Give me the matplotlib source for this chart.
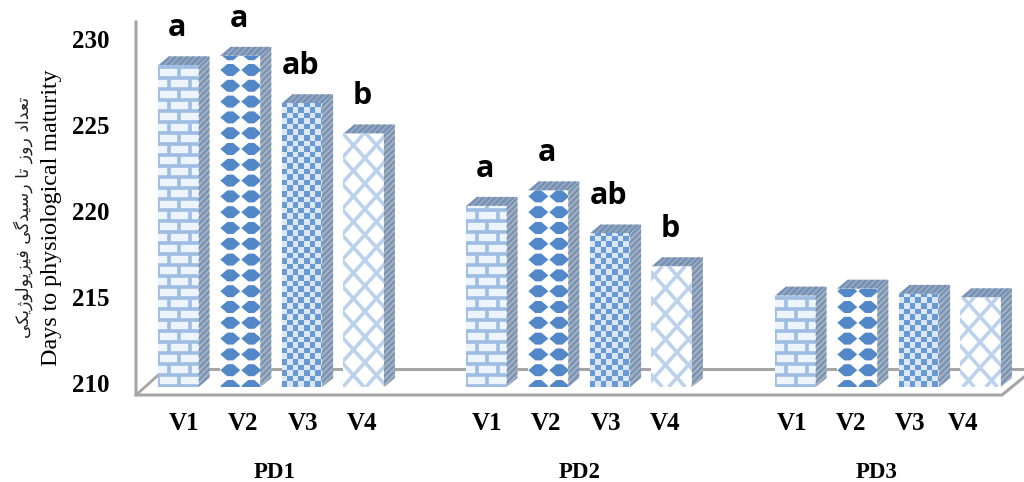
import numpy as np
import matplotlib
matplotlib.use("Agg")
import matplotlib.pyplot as plt
from matplotlib.patches import Polygon, Rectangle
from matplotlib.collections import LineCollection

W, H = 1024, 482
BASE_PX = 387.0
PX_PER_DAY = 17.25

groups = ["PD1", "PD2", "PD3"]
varieties = ["V1", "V2", "V3", "V4"]
pd1_days = [228.65, 229.2, 226.45, 224.7]
pd2_days = [220.5, 221.4, 218.9, 217.0]
pd3_days = [215.3, 215.7, 215.4, 215.2]
all_days = [pd1_days, pd2_days, pd3_days]
pd1_letters = ["a", "a", "ab", "b"]
pd2_letters = ["a", "a", "ab", "b"]
pd3_letters = ["", "", "", ""]
all_letters = [pd1_letters, pd2_letters, pd3_letters]
y_ticks = [210, 215, 220, 225, 230]
persian_label = "\uFE97\uFECC\uFEAA\uFE8D\uFEA9 \uFEAD\uFEED\uFEAF \uFE97\uFE8E \uFEAD\uFEB3\uFBFF\uFEAA\uFB94\uFBFD \uFED3\uFBFF\uFEB0\uFBFE\uFEEE\uFEDF\uFEEE\uFB8A\uFBFE\uFB91\uFBFD"[::-1]
english_label = "Days to physiological maturity"

group_left = [158, 466, 775]
label_x = [[184, 243, 303, 362], [487, 546, 606, 665], [792, 851, 910, 963]]
group_label_x = [275, 580, 877]
bar_w = 40.5
bar_step = 61.8
dx, dy = 11, 9

fig = plt.figure(figsize=(W / 100, H / 100), dpi=100)
ax = fig.add_axes([0, 0, 1, 1])
ax.set_xlim(0, W)
ax.set_ylim(210 - (H - BASE_PX) / PX_PER_DAY, 210 + BASE_PX / PX_PER_DAY)
ax.axis("off")

def Y(px):
    return 210 + (BASE_PX - px) / PX_PER_DAY

GREY = "#a6a6a6"
BLUE = "#5288c8"
LIGHT = "#9dbde2"

# chart frame
ax.plot([136, 136, 1002, 1024], [Y(22), Y(395), Y(395), Y(377)], color=GREY, lw=2.2, solid_joinstyle="miter", zorder=1)
ax.plot([136, 165], [Y(395), Y(369)], color=GREY, lw=2.0, zorder=1)
ax.plot([165, 1024], [Y(369), Y(369)], color=GREY, lw=2.2, zorder=1)

def add_lines(segs, clip, color, lw, z, alpha=1.0):
    lc = LineCollection(segs, colors=color, linewidths=lw, zorder=z, capstyle="butt", alpha=alpha)
    ax.add_collection(lc)
    lc.set_clip_path(clip)

def brick(x0, x1, top, clip):
    bg = Rectangle((x0, 210), x1 - x0, Y(top) - 210, fc="#eef4fb", ec="none", zorder=2.5)
    ax.add_patch(bg)
    segs = []
    row = 11.0
    n = int((BASE_PX - top) / row) + 2
    for i in range(n):
        yp = BASE_PX - 1 - i * row
        segs.append([(x0, Y(yp)), (x1, Y(yp))])
        off = 0 if i % 2 == 0 else 10.5
        for xv in np.arange(x0 - 21 + off, x1, 21):
            segs.append([(xv, Y(yp)), (xv, Y(yp - row))])
    add_lines(segs, clip, LIGHT, 2.6, 3)

def diamonds(x0, x1, top, clip):
    py = 15.8
    for i in range(int((BASE_PX - top) / py) + 2):
        yc = BASE_PX - 1 - i * py
        for xc in (x0 + 10.5, x0 + 31.5):
            d = Polygon([(xc - 10, Y(yc)), (xc - 3, Y(yc - 6)), (xc + 3, Y(yc - 6)), (xc + 10, Y(yc)),
                         (xc + 3, Y(yc + 6)), (xc - 3, Y(yc + 6))],
                        closed=True, fc=BLUE, ec="none", zorder=3)
            ax.add_patch(d)
            d.set_clip_path(clip)

def checks(x0, x1, top, clip):
    step = 5.6
    for i in range(int((BASE_PX - top) / step) + 2):
        yp = BASE_PX - i * step
        for j, xv in enumerate(np.arange(x0, x1, step)):
            c = "#6a9ad3" if (i + j) % 2 == 0 else "#dbe7f5"
            r = Rectangle((xv, Y(yp)), step, step / PX_PER_DAY, fc=c, ec="none", zorder=3)
            ax.add_patch(r)
            r.set_clip_path(clip)

def lattice(x0, x1, top, clip):
    segs = []
    p = 23.0
    h = BASE_PX - top
    for c in np.arange(-h - p, (x1 - x0) + h + p, p):
        segs.append([(x0 + c, Y(BASE_PX)), (x0 + c + h * 0.9, Y(top))])
        segs.append([(x0 + c, Y(top)), (x0 + c + h * 0.9, Y(BASE_PX))])
    add_lines(segs, clip, "#bcd2ec", 2.6, 3)

painters = [brick, diamonds, checks, lattice]

def stripes(poly, color, step=6.0, lw=1.5):
    xy = poly.get_xy()
    ymin, ymax = xy[:, 1].min(), xy[:, 1].max()
    h = (ymax - ymin) * PX_PER_DAY
    segs = []
    for c in np.arange(xy[:, 0].min() - h, xy[:, 0].max() + h, step):
        segs.append([(c, ymin), (c + h, ymax)])
    add_lines(segs, poly, color, lw, 3, alpha=0.75)

for g, (left, days, letters) in enumerate(zip(group_left, all_days, all_letters)):
    xs = [left + i * bar_step for i in range(len(days))]
    bars = ax.bar(xs, np.array(days) - 210, bottom=210, width=bar_w, align="edge",
                  color="white", edgecolor="none", zorder=2)
    for i, (rect, v, x) in enumerate(zip(bars, days, xs)):
        top_px = BASE_PX - (v - 210) * PX_PER_DAY
        painters[i](x, x + bar_w, top_px, rect)
        ddy = dy / PX_PER_DAY
        side = Polygon([(x + bar_w, 210), (x + bar_w + dx, 210 + ddy), (x + bar_w + dx, v + ddy), (x + bar_w, v)],
                       closed=True, fc="#a9b0b9", ec="none", zorder=2)
        ax.add_patch(side)
        stripes(side, "#5f88bb")
        topf = Polygon([(x, v), (x + dx, v + ddy), (x + bar_w + dx, v + ddy), (x + bar_w, v)],
                       closed=True, fc="#97a5b8", ec="none", zorder=2)
        ax.add_patch(topf)
        stripes(topf, "#5f88bb", 6.0)
        if letters[i]:
            ax.text(x + bar_w / 2 - 1.5, v + 29 / PX_PER_DAY, letters[i], family="Open Sans", fontsize=22,
                    fontweight="bold", ha="center", va="baseline", color="black", zorder=5)
        ax.text(label_x[g][i], Y(423), varieties[i], family="Liberation Serif", fontsize=18,
                fontweight="bold", ha="center", va="center", color="black", zorder=5)
    ax.text(group_label_x[g], Y(478), groups[g], family="Liberation Serif", fontsize=16.5,
            fontweight="bold", ha="center", va="baseline", color="black")

for t in y_ticks:
    yp = 386 - (t - 210) * PX_PER_DAY
    ax.text(91, Y(yp), str(t), family="Liberation Serif", fontsize=18, fontweight="bold",
            ha="center", va="center", color="black")

ax.text(23, Y(217), persian_label, family="DejaVu Sans", fontsize=12.5, rotation=90,
        ha="center", va="center", color="#222222")
ax.text(52, Y(218), english_label, family="Liberation Serif", fontsize=17.3, rotation=90,
        ha="center", va="center", color="black")

fig.savefig("out.png", dpi=100)
